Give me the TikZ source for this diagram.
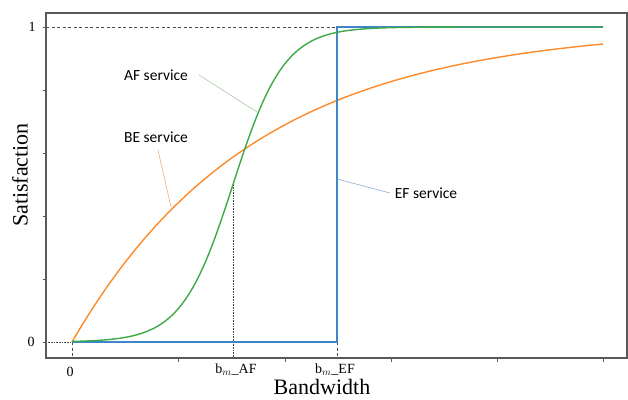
\documentclass[tikz,border=0pt]{standalone}
\usepackage{fontspec}
\setmainfont{Liberation Serif}
\newfontfamily\labelfont{Carlito}
\begin{document}
\begin{tikzpicture}[x=1pt,y=-1pt,
  axisline/.style={draw=black!65, line width=1.1pt},
  tickmark/.style={draw=black!65, line width=0.9pt},
  afcurve/.style={draw=afgreen, line width=1.4pt},
  becurve/.style={draw=beorange, line width=1.4pt},
  efcurve/.style={draw=efblue, line width=1.4pt},
  leader/.style={line width=0.6pt},
  guide/.style={draw=black!70, line width=0.6pt, densely dotted},
  guidedash/.style={draw=black!70, line width=0.8pt, dash pattern=on 3pt off 2.5pt},
  svclabel/.style={font=\labelfont\fontsize{15.5}{18}\selectfont, inner sep=0pt},
  numlabel/.style={font=\fontsize{14}{16}\selectfont, inner sep=0pt},
  axlabel/.style={font=\fontsize{22}{26}\selectfont, inner sep=0pt}]
\definecolor{afgreen}{HTML}{3DAA47}
\definecolor{beorange}{HTML}{FF8A2A}
\definecolor{efblue}{HTML}{3F86C6}
\definecolor{afleader}{HTML}{A9C9A1}
\definecolor{beleader}{HTML}{F2AD80}
\definecolor{efleader}{HTML}{8EAEDC}
\useasboundingbox (0,0) rectangle (628,399);

% key points of the chart
\coordinate (o) at (72,342);
\coordinate (one) at (46,27);
\coordinate (efbot) at (337,342);
\coordinate (eftop) at (337,27);
\coordinate (efend) at (603,27);
\coordinate (afmid) at (233,182);

% guide lines
\draw[guidedash] (one) -- (eftop);
\draw[guide] (46,342) -- (o);
\draw[guidedash] (o) -- (72,358);
\draw[guidedash] (efbot) -- (337,358);
\draw[guide] (afmid) -- (233,358);

% curves
\draw[becurve] plot[domain=72:603, samples=150] (\x, {342-315*(1-exp(-0.0055*(\x-72)))});
\draw[efcurve] (o) -- (efbot) -- (eftop) -- (efend);
\draw[afcurve] plot[domain=72:603, samples=200] (\x, {342-315/(1+exp(-0.039*(\x-233)))});

% frame and ticks
\draw[axisline] (46,13) rectangle (627,358);
\foreach \yy in {27,90,153,216,279,342} \draw[tickmark] (42.5,\yy) -- (46,\yy);
\foreach \xx in {178,285,391,497,603} \draw[tickmark] (\xx,358) -- (\xx,362);

% tick labels
\node[numlabel] (ylab1) at (32,27) {1};
\node[numlabel] (ylab0) at (31,342) {0};
\node[numlabel] (xlab0) at (70,372) {0};
\node[numlabel, anchor=base] (xlabaf) at (236,373) {b$_{m}$\_AF};
\node[numlabel, anchor=base] (xlabef) at (335,373) {b$_{m}$\_EF};

% axis titles
\node[axlabel, anchor=base] (xtitle) at (322,394.5) {Bandwidth};
\node[axlabel, rotate=90] (ytitle) at (20,175) {Satisfaction};

% service labels with leaders
\node[svclabel] (aflab) at (156,75) {AF service};
\node[svclabel] (belab) at (156,137) {BE service};
\node[svclabel] (eflab) at (426,193) {EF service};
\coordinate (afpt) at (257,112);
\coordinate (bept) at (171,207);
\coordinate (efpt) at (337,179);
\draw[leader, afleader] (199,75) -- (afpt);
\draw[leader, beleader] (158,150) -- (bept);
\draw[leader, efleader] (efpt) -- (390,193);
\end{tikzpicture}
\end{document}
